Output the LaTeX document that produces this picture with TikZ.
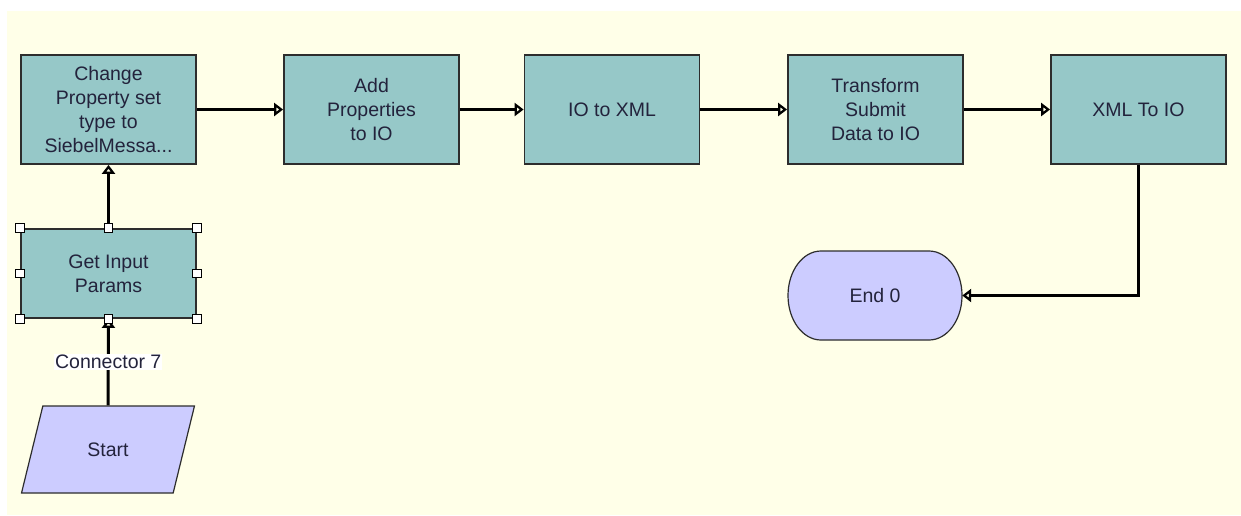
\documentclass[tikz,border=0pt]{standalone}
\usepackage{fontspec}
\setmainfont{Liberation Sans}
\usetikzlibrary{arrows.meta,shapes.geometric}
\definecolor{bgcol}{RGB}{255,255,232}
\definecolor{taskfill}{RGB}{150,200,200}
\definecolor{termfill}{RGB}{204,204,255}
\definecolor{txtcol}{RGB}{35,35,60}
\definecolor{edgecol}{RGB}{45,45,45}
\begin{document}
\begin{tikzpicture}[x=1pt,y=-1pt,
  lbl/.style={font=\fontsize{19.5}{24}\selectfont, text=txtcol, align=center},
  task/.style={lbl, draw=edgecol, line width=1.8pt, fill=taskfill,
    minimum width=175pt, minimum height=109pt, inner sep=0pt},
  conn/.style={line width=3pt, draw=black,
    -{Triangle[open,length=9pt,width=13pt,line width=3pt]}},
  handle/.style={draw=black, line width=1pt, fill=white,
    minimum size=8.5pt, inner sep=0pt},
]
\useasboundingbox (0,0) rectangle (1241,515);
\fill[bgcol] (7,11) rectangle (1241,515);

% task boxes
\node[task] (b1) at (108.5,109.5) {Change\\Property set\\type to\\SiebelMessa...};
\node[task] (b2) at (371.5,109.5) {Add\\Properties\\to IO};
\node[task] (b3) at (612,109.5) {IO to XML};
\node[task] (b4) at (875.5,109.5) {Transform\\Submit\\Data to IO};
\node[task] (b5) at (1138.5,109.5) {XML To IO};
\node[task, minimum height=89pt] (gip) at (108.5,273.5) {Get Input\\Params};

% start parallelogram
\node[lbl, trapezium, trapezium left angle=64, trapezium right angle=116,
  trapezium stretches=true, minimum width=174pt, minimum height=87pt,
  inner sep=0pt, draw=edgecol, line width=1.2pt, fill=termfill] (start) at (108,449.5) {Start};

% end terminator
\coordinate (endc) at (875,295.5);
\draw[edgecol, line width=1.2pt, fill=termfill]
  (821,251) -- (929,251)
  arc[start angle=-90, end angle=90, x radius=33, y radius=44.5]
  -- (821,340)
  arc[start angle=90, end angle=270, x radius=33, y radius=44.5] -- cycle;
\node[lbl, minimum width=174pt, minimum height=89pt, inner sep=0pt] (end) at (endc) {End 0};

% connectors
\draw[conn] (start.north) -- node[lbl, fill=white, inner sep=1pt, pos=0.5] (c7) {Connector 7} (gip.south);
\draw[conn] (gip.north) -- (b1.south);
\draw[conn] (b1.east) -- (b2.west);
\draw[conn] (b2.east) -- (b3.west);
\draw[conn] (b3.east) -- (b4.west);
\draw[conn] (b4.east) -- (b5.west);
\draw[conn] (b5.south) |- (end.east);

% selection handles
\foreach \a [count=\i] in {north west, north, north east, east, south east, south, south west, west}
  \node[handle] (h\i) at (gip.\a) {};
\end{tikzpicture}
\end{document}
